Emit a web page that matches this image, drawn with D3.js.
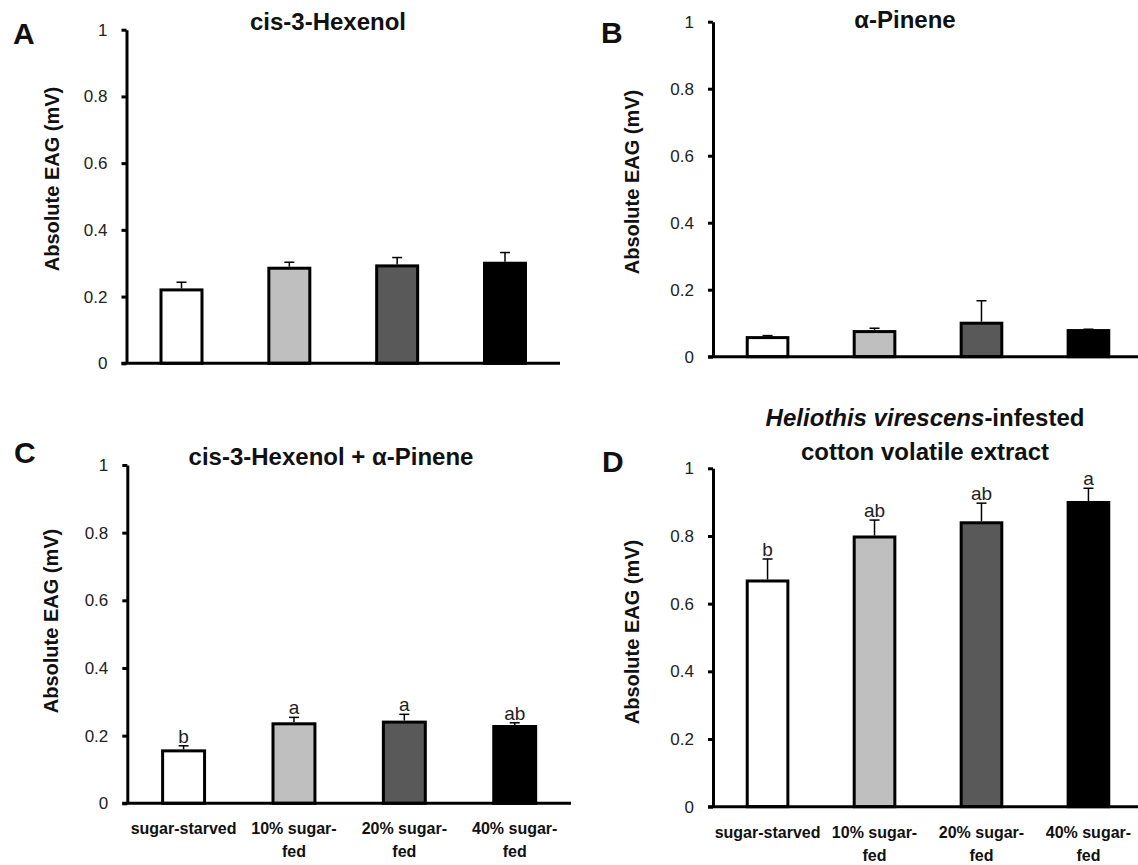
<!DOCTYPE html>
<html>
<head>
<meta charset="utf-8">
<script src="https://cdn.jsdelivr.net/npm/d3@7"></script>
<style>
  html, body { margin: 0; padding: 0; background: #fff; }
  svg { display: block; font-family: "Liberation Sans", Arial, sans-serif; }
</style>
</head>
<body>
<svg id="fig" width="1138" height="865"></svg>
<script>
// Feeding treatments (x categories), split into the lines drawn under the bars
const categories = ["sugar-starved", "10% sugar-fed", "20% sugar-fed", "40% sugar-fed"];
const categoryLines = [["sugar-starved"], ["10% sugar-", "fed"], ["20% sugar-", "fed"], ["40% sugar-", "fed"]];

// Y-axis ticks shared by every panel
const yTicks = [0, 0.2, 0.4, 0.6, 0.8, 1];

// A: cis-3-Hexenol
const hexenolMean = [0.22, 0.285, 0.292, 0.30];
const hexenolSE   = [0.023, 0.018, 0.025, 0.032];

// B: alpha-Pinene
const pineneMean = [0.057, 0.075, 0.10, 0.078];
const pineneSE   = [0.006, 0.010, 0.067, 0.004];

// C: cis-3-Hexenol + alpha-Pinene
const mixMean    = [0.155, 0.235, 0.24, 0.227];
const mixSE      = [0.015, 0.019, 0.023, 0.011];
const mixLetters = ["b", "a", "a", "ab"];

// D: H. virescens-infested cotton volatile extract
const extractMean    = [0.667, 0.797, 0.839, 0.899];
const extractSE      = [0.065, 0.050, 0.058, 0.042];
const extractLetters = ["b", "ab", "ab", "a"];

const fills = ["#ffffff", "#bfbfbf", "#595959", "#000000"];

const panels = [
  { tag: "A", title: [[{t: "cis-3-Hexenol"}]], mean: hexenolMean, se: hexenolSE, letters: null,
    x0: 126.5, x1: 560, yTop: 29.7, yBot: 363.3, titleX: 328, titleY: [30],
    tagX: 13, tagY: 44, labX: 52, labY: 179, xLabels: false },
  { tag: "B", title: [[{t: "α-Pinene"}]], mean: pineneMean, se: pineneSE, letters: null,
    x0: 713, x1: 1143, yTop: 21.7, yBot: 356.7, titleX: 905, titleY: [28],
    tagX: 601, tagY: 43, labX: 632, labY: 182, xLabels: false },
  { tag: "C", title: [[{t: "cis-3-Hexenol + α-Pinene"}]], mean: mixMean, se: mixSE, letters: mixLetters,
    x0: 127.3, x1: 571, yTop: 465, yBot: 803.3, titleX: 331, titleY: [465],
    tagX: 14, tagY: 463, labX: 51, labY: 621, xLabels: true },
  { tag: "D", title: [[{t: "Heliothis virescens", i: true}, {t: "-infested"}], [{t: "cotton volatile extract"}]],
    mean: extractMean, se: extractSE, letters: extractLetters,
    x0: 713, x1: 1143, yTop: 468.3, yBot: 806.7, titleX: 925, titleY: [426, 460],
    tagX: 602, tagY: 472, labX: 632, labY: 632, xLabels: true }
];

const svg = d3.select("#fig");

panels.forEach(p => {
  const g = svg.append("g");

  const x = d3.scaleBand()
    .domain(categories)
    .range([p.x0, p.x1])
    .paddingInner(0.62)
    .paddingOuter(0.32);

  const y = d3.scaleLinear().domain([0, 1]).range([p.yBot, p.yTop]);

  const rows = categories.map((c, i) => ({ c, i, mean: p.mean[i], se: p.se[i] }));

  // bars
  g.selectAll("rect.bar").data(rows).join("rect")
    .attr("class", "bar")
    .attr("x", d => x(d.c))
    .attr("width", x.bandwidth())
    .attr("y", d => y(d.mean))
    .attr("height", d => y(0) - y(d.mean))
    .attr("fill", d => fills[d.i])
    .attr("stroke", "#000")
    .attr("stroke-width", 3);

  // upper error bars
  const eb = g.selectAll("g.err").data(rows).join("g").attr("class", "err")
    .attr("stroke", "#000").attr("stroke-width", 1.5);
  eb.append("line")
    .attr("x1", d => x(d.c) + x.bandwidth() / 2)
    .attr("x2", d => x(d.c) + x.bandwidth() / 2)
    .attr("y1", d => y(d.mean) - 1.5)
    .attr("y2", d => y(d.mean + d.se));
  eb.append("line")
    .attr("x1", d => x(d.c) + x.bandwidth() / 2 - 5)
    .attr("x2", d => x(d.c) + x.bandwidth() / 2 + 5)
    .attr("y1", d => y(d.mean + d.se))
    .attr("y2", d => y(d.mean + d.se));

  // significance letters
  if (p.letters) {
    g.selectAll("text.sig").data(rows).join("text")
      .attr("class", "sig")
      .attr("x", d => x(d.c) + x.bandwidth() / 2)
      .attr("y", d => y(d.mean + d.se) - 3)
      .attr("text-anchor", "middle")
      .attr("font-size", 19)
      .attr("fill", "#222")
      .text(d => p.letters[d.i]);
  }

  // x axis line
  const xAxis = g.append("g")
    .attr("transform", `translate(0,${y(0)})`)
    .call(d3.axisBottom(x).tickSize(0).tickSizeOuter(0).tickFormat(""));
  xAxis.select(".domain").attr("stroke", "#000").attr("stroke-width", 3)
    .attr("d", `M${p.x0 - 5},0H${p.x1}`);

  // y axis
  const yAxis = g.append("g")
    .attr("transform", `translate(${p.x0},0)`)
    .call(d3.axisLeft(y).tickValues(yTicks).tickSize(5).tickSizeOuter(0).tickPadding(14)
      .tickFormat(d => String(d)));
  yAxis.select(".domain").attr("stroke", "#000").attr("stroke-width", 3);
  yAxis.selectAll(".tick line").attr("stroke", "#000").attr("stroke-width", 3);
  yAxis.selectAll(".tick text")
    .attr("font-family", "'Liberation Sans', Arial, sans-serif")
    .attr("font-size", 17).attr("fill", "#222");

  // y axis title
  g.append("text")
    .attr("transform", `translate(${p.labX},${p.labY}) rotate(-90)`)
    .attr("text-anchor", "middle")
    .attr("dy", "0.35em")
    .attr("font-size", 20)
    .attr("font-weight", "bold")
    .attr("fill", "#111")
    .text("Absolute EAG (mV)");

  // panel title
  p.title.forEach((line, li) => {
    const t = g.append("text")
      .attr("x", p.titleX)
      .attr("y", p.titleY[li])
      .attr("text-anchor", "middle")
      .attr("font-size", 24)
      .attr("font-weight", "bold")
      .attr("fill", "#111");
    line.forEach(seg => {
      t.append("tspan").attr("font-style", seg.i ? "italic" : "normal").text(seg.t);
    });
  });

  // panel tag
  g.append("text")
    .attr("x", p.tagX)
    .attr("y", p.tagY)
    .attr("font-size", 30)
    .attr("font-weight", "bold")
    .attr("fill", "#111")
    .text(p.tag);

  // category labels under the bottom panels
  if (p.xLabels) {
    const lab = g.selectAll("text.cat").data(rows).join("text")
      .attr("class", "cat")
      .attr("text-anchor", "middle")
      .attr("font-size", 16)
      .attr("font-weight", "bold")
      .attr("fill", "#111");
    lab.each(function(d) {
      const el = d3.select(this);
      categoryLines[d.i].forEach((s, k) => {
        el.append("tspan")
          .attr("x", x(d.c) + x.bandwidth() / 2)
          .attr("y", y(0) + 31 + k * 23)
          .text(s);
      });
    });
  }
});
</script>
</body>
</html>
